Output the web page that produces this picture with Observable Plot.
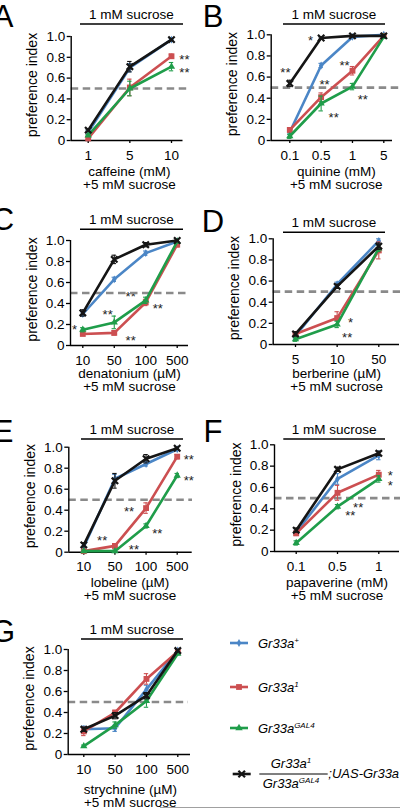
<!DOCTYPE html>
<html><head><meta charset="utf-8">
<script src="https://cdn.jsdelivr.net/npm/d3@7"></script>
<script src="https://cdn.jsdelivr.net/npm/@observablehq/plot@0.6"></script>
<style>
html,body{margin:0;padding:0;background:#fff;}
#root{position:relative;width:400px;height:809px;overflow:hidden;font-family:"Liberation Sans",Arial,sans-serif;}
.panel{position:absolute;width:200px;}
#overlay{position:absolute;left:0;top:0;}
</style></head><body><div id="root"></div>
<script>
// ---- data ----
const genotypeNames = ["Gr33a+", "Gr33a1", "Gr33aGAL4", "rescue"];
const colors = ["#4b86c6", "#cc4f51", "#1f9d4a", "#151515"];
const symbols = ["diamond", "square", "triangle", "times"];
const yTicks = [0, 0.2, 0.4, 0.6, 0.8, 1.0];

// order of each means/sem list: Gr33a+, Gr33a1, Gr33aGAL4, rescue
const caffeineDoses = ["1", "5", "10"];
const caffeineMeans = [[0.08,0.70,0.97],[0.02,0.51,0.81],[0.05,0.50,0.71],[0.10,0.71,0.97]];
const caffeineSEM   = [[0.02,0.04,0.01],[0.01,0.08,0.02],[0.01,0.07,0.04],[0.01,0.05,0.01]];
const caffeineStars = [{i:2.31,v:0.817,t:"**"},{i:2.31,v:0.69,t:"**"}];

const quinineDoses = ["0.1", "0.5", "1", "5"];
const quinineMeans = [[0.08,0.71,0.98,1.0],[0.10,0.41,0.66,0.99],[0.04,0.35,0.51,0.98],[0.54,0.97,0.99,0.99]];
const quinineSEM   = [[0.02,0.02,0.01,0.01],[0.02,0.04,0.04,0.01],[0.02,0.07,0.03,0.01],[0.03,0.01,0.01,0.01]];
const quinineStars = [{i:-0.14,v:0.678,t:"**"},{i:0.66,v:0.977,t:"*"},{i:1.11,v:0.568,t:"**"},{i:1.40,v:0.252,t:"**"},{i:1.746,v:0.741,t:"**"},{i:2.33,v:0.419,t:"**"}];

const denatoniumDoses = ["10", "50", "100", "500"];
const denatoniumMeans = [[0.30,0.63,0.88,0.99],[0.11,0.12,0.41,0.96],[0.15,0.22,0.43,0.99],[0.31,0.82,0.96,1.0]];
const denatoniumSEM   = [[0.02,0.02,0.02,0.01],[0.01,0.02,0.03,0.02],[0.02,0.06,0.03,0.01],[0.03,0.04,0.02,0.01]];
const denatoniumStars = [{i:-0.26,v:0.19,t:"*"},{i:0.79,v:0.333,t:"**"},{i:1.52,v:0.498,t:"**"},{i:1.52,v:0.086,t:"**"},{i:2.38,v:0.39,t:"**"}];

const berberineDoses = ["5", "10", "50"];
const berberineMeans = [[0.08,0.57,0.98],[0.10,0.25,0.89],[0.05,0.19,0.91],[0.10,0.55,0.93]];
const berberineSEM   = [[0.02,0.02,0.02],[0.02,0.06,0.08],[0.02,0.03,0.03],[0.02,0.02,0.03]];
const berberineStars = [{i:1.32,v:0.243,t:"*"},{i:1.24,v:0.10,t:"**"}];

const lobelineDoses = ["10", "50", "100", "500"];
const lobelineMeans = [[0.05,0.70,0.84,0.98],[0.01,0.06,0.42,0.91],[0.01,0.01,0.25,0.73],[0.07,0.68,0.89,0.99]];
const lobelineSEM   = [[0.01,0.04,0.02,0.01],[0.01,0.02,0.05,0.02],[0.01,0.01,0.02,0.02],[0.02,0.07,0.04,0.01]];
const lobelineStars = [{i:0.59,v:0.15,t:"**"},{i:1.45,v:0.42,t:"**"},{i:1.61,v:0.057,t:"**"},{i:2.36,v:0.216,t:"**"},{i:3.37,v:0.914,t:"**"},{i:3.37,v:0.72,t:"**"}];

const papaverineDoses = ["0.1", "0.5", "1"];
const papaverineMeans = [[0.18,0.68,0.90],[0.17,0.55,0.72],[0.08,0.42,0.68],[0.20,0.77,0.92]];
const papaverineSEM   = [[0.02,0.05,0.04],[0.02,0.07,0.04],[0.02,0.02,0.03],[0.02,0.02,0.02]];
const papaverineStars = [{i:2.28,v:0.75,t:"*"},{i:2.28,v:0.65,t:"*"},{i:1.50,v:0.447,t:"**"},{i:1.31,v:0.375,t:"**"}];

const strychnineDoses = ["10", "50", "100", "500"];
const strychnineMeans = [[0.24,0.25,0.62,0.99],[0.22,0.40,0.72,0.98],[0.08,0.28,0.51,0.96],[0.24,0.37,0.56,0.99]];
const strychnineSEM   = [[0.03,0.03,0.04,0.01],[0.04,0.02,0.05,0.01],[0.01,0.03,0.06,0.01],[0.02,0.03,0.03,0.01]];
const strychnineStars = [];

// ---- layout (pixels, relative to each panel origin) ----
const layouts = {
  A:{ox:0,  oy:0,  H:200, L:70.7, y1:36,   y0:140,   c0:87.7, c1:171,   R:182.5, dashR:190, lx:3,    lb:27,   sucY:24,   sx1:80,   sx2:183, xl1:175.5},
  B:{ox:200,oy:0,  H:200, L:70.7, y1:34.3, y0:140,   c0:89.3, c1:183.3, R:192,   dashR:200, lx:13,   lb:27,   sucY:24,   sx1:83,   sx2:185, xl1:175.5},
  C:{ox:0,  oy:200,H:200, L:70,   y1:40,   y0:145,   c0:82.3, c1:176.7, R:188,   dashR:190, lx:3,    lb:29.5, sucY:29.3, sx1:80,   sx2:183, xl1:178},
  D:{ox:200,oy:200,H:200, L:72.7, y1:38.3, y0:144,   c0:95,   c1:178.3, R:199,   dashR:200, lx:13,   lb:31.5, sucY:32.3, sx1:83,   sx2:185, xl1:177.5},
  E:{ox:0,  oy:400,H:200, L:68.3, y1:46.7, y0:151.7, c0:83.3, c1:176.7, R:191.7, dashR:192, lx:3,    lb:41.5, sucY:39,   sx1:81,   sx2:183, xl1:187},
  F:{ox:200,oy:400,H:200, L:74,   y1:44.3, y0:151,   c0:95.7, c1:178.3, R:199,   dashR:200, lx:13,   lb:41.5, sucY:39,   sx1:83.3, sx2:185, xl1:187},
  G:{ox:0,  oy:600,H:209, L:67.7, y1:49,   y0:154,   c0:83.3, c1:177.3, R:190,   dashR:188, lx:3,    lb:41.5, sucY:39,   sx1:81,   sx2:183, xl1:193.5}
};

const FONT = "Liberation Sans, Arial, sans-serif";
const root = document.getElementById("root");

function drawPanel(letter, doses, means, sem, stars, xLabel) {
  const g = layouts[letter];
  const n = doses.length;
  const step = (g.c1 - g.c0) / (n - 1);
  const toIdx = px => (px - g.c0) / step;
  const xDom = [toIdx(g.L), toIdx(g.dashR)];
  const axisEnd = toIdx(g.R);
  const cap = 2.2 / step;
  const marks = [
    Plot.text(stars, {x:"i", y:"v", text:"t", fontSize:13, dy:4, fill:"#222"}),
    Plot.ruleY([0.5], {stroke:"#8a8a8a", strokeWidth:2.6, strokeDasharray:"7.5,4.5"}),
    Plot.ruleY([0], {x1:xDom[0], x2:axisEnd, stroke:"#000", strokeWidth:1.4}),
    Plot.ruleX([xDom[0]], {y1:0, y2:1, stroke:"#000", strokeWidth:1.4}),
    Plot.axisY({ticks:yTicks, tickFormat:d => d === 0 ? "0" : d.toFixed(1), tickSize:4, tickPadding:2, label:null, strokeWidth:1.3}),
    Plot.axisX({ticks:d3.range(n), tickFormat:i => doses[i], tickSize:3, tickPadding:6.5, label:null, strokeWidth:1.3})
  ];
  for (let s = 0; s < 4; s++) {
    const rows = doses.map((d, i) => ({i, v:means[s][i], e:sem[s][i]}));
    marks.push(Plot.ruleX(rows, {x:"i", y1:d => d.v - d.e, y2:d => d.v + d.e, stroke:colors[s], strokeWidth:1.1}));
    marks.push(Plot.ruleY(rows, {y:d => d.v + d.e, x1:d => d.i - cap, x2:d => d.i + cap, stroke:colors[s], strokeWidth:1.1}));
    marks.push(Plot.ruleY(rows, {y:d => d.v - d.e, x1:d => d.i - cap, x2:d => d.i + cap, stroke:colors[s], strokeWidth:1.1}));
    marks.push(Plot.line(rows, {x:"i", y:"v", stroke:colors[s], strokeWidth:2.6}));
    if (symbols[s] === "times") {
      marks.push(Plot.dot(rows, {x:"i", y:"v", symbol:"times", r:3, stroke:colors[s], strokeWidth:2.2, fill:"none"}));
    } else {
      const r = symbols[s] === "diamond" ? 2.4 : symbols[s] === "square" ? 3.3 : 2.7;
      marks.push(Plot.dot(rows, {x:"i", y:"v", symbol:symbols[s], r, fill:colors[s], stroke:"none"}));
    }
  }
  const svg = Plot.plot({
    width:200, height:g.H,
    marginLeft:g.L, marginRight:200 - g.dashR, marginTop:g.y1, marginBottom:g.H - g.y0,
    x:{type:"linear", domain:xDom},
    y:{domain:[0, 1]},
    style:{fontFamily:FONT, fontSize:"13.5px", color:"#000", background:"transparent", overflow:"visible"},
    marks
  });
  const sel = d3.select(svg);
  sel.append("text").attr("x", g.lx).attr("y", g.lb).attr("font-size", 31).attr("fill", "#000").text(letter);
  sel.append("text").attr("x", (g.sx1 + g.sx2) / 2).attr("y", g.sucY - 5.5).attr("text-anchor", "middle")
    .attr("font-size", 13.5).attr("fill", "#000").text("1 mM sucrose");
  sel.append("line").attr("x1", g.sx1).attr("x2", g.sx2).attr("y1", g.sucY).attr("y2", g.sucY)
    .attr("stroke", "#000").attr("stroke-width", 1.5);
  sel.append("text").attr("transform", `translate(${g.L - 33.5},${(g.y0 + g.y1) / 2 - 3}) rotate(-90)`)
    .attr("text-anchor", "middle").attr("font-size", 14).attr("fill", "#000").text("preference index");
  const cx = (g.c0 + g.c1) / 2;
  sel.append("text").attr("x", cx).attr("y", g.xl1).attr("text-anchor", "middle").attr("font-size", 13.5).attr("fill", "#000").text(xLabel);
  sel.append("text").attr("x", cx).attr("y", g.xl1 + 13).attr("text-anchor", "middle").attr("font-size", 13.5).attr("fill", "#000").text("+5 mM sucrose");
  const div = document.createElement("div");
  div.className = "panel";
  div.style.left = g.ox + "px";
  div.style.top = g.oy + "px";
  div.appendChild(svg);
  root.appendChild(div);
}

drawPanel("A", caffeineDoses, caffeineMeans, caffeineSEM, caffeineStars, "caffeine (mM)");
drawPanel("B", quinineDoses, quinineMeans, quinineSEM, quinineStars, "quinine (mM)");
drawPanel("C", denatoniumDoses, denatoniumMeans, denatoniumSEM, denatoniumStars, "denatonium (µM)");
drawPanel("D", berberineDoses, berberineMeans, berberineSEM, berberineStars, "berberine (µM)");
drawPanel("E", lobelineDoses, lobelineMeans, lobelineSEM, lobelineStars, "lobeline (µM)");
drawPanel("F", papaverineDoses, papaverineMeans, papaverineSEM, papaverineStars, "papaverine (mM)");
drawPanel("G", strychnineDoses, strychnineMeans, strychnineSEM, strychnineStars, "strychnine (µM)");

// ---- legend ----
const ov = d3.select(root).append("svg").attr("id", "overlay").attr("width", 400).attr("height", 809)
  .style("font-family", FONT);
const legendY = [643, 687, 728, 774];
const supers = ["+", "1", "GAL4"];
const symGen = {diamond:d3.symbolDiamond, square:d3.symbolSquare, triangle:d3.symbolTriangle, times:d3.symbolX};
const symSize = {diamond:18, square:34, triangle:24, times:30};
for (let s = 0; s < 4; s++) {
  const y = legendY[s];
  const x0 = s === 3 ? 232.7 : 230, x1 = s === 3 ? 250.7 : 248;
  ov.append("line").attr("x1", x0).attr("x2", x1).attr("y1", y).attr("y2", y).attr("stroke", colors[s]).attr("stroke-width", 2.6);
  const p = d3.symbol(symGen[symbols[s]], symSize[symbols[s]])();
  const m = ov.append("path").attr("d", p).attr("transform", `translate(${(x0 + x1) / 2},${y})`);
  if (symbols[s] === "times") m.attr("stroke", colors[s]).attr("stroke-width", 2.2).attr("fill", "none");
  else m.attr("fill", colors[s]);
  if (s < 3) {
    const t = ov.append("text").attr("x", 258).attr("y", y + 5).attr("font-size", 13).attr("font-style", "italic").attr("fill", "#000");
    t.append("tspan").text("Gr33a");
    t.append("tspan").attr("font-size", 8).attr("dy", -5).text(supers[s]);
  }
}
// rescue genotype label (fraction)
const num = ov.append("text").attr("x", 291).attr("y", 768).attr("text-anchor", "middle").attr("font-size", 13).attr("font-style", "italic");
num.append("tspan").text("Gr33a");
num.append("tspan").attr("font-size", 8).attr("dy", -5).text("1");
ov.append("line").attr("x1", 259.3).attr("x2", 327.7).attr("y1", 774).attr("y2", 774).attr("stroke", "#000").attr("stroke-width", 1);
const den = ov.append("text").attr("x", 291).attr("y", 788).attr("text-anchor", "middle").attr("font-size", 13).attr("font-style", "italic");
den.append("tspan").text("Gr33a");
den.append("tspan").attr("font-size", 8).attr("dy", -5).text("GAL4");
ov.append("text").attr("x", 328.3).attr("y", 778).attr("font-size", 13).attr("font-style", "italic").text(";UAS-Gr33a");
// bottom rule
ov.append("line").attr("x1", 160).attr("x2", 400).attr("y1", 807.5).attr("y2", 807.5).attr("stroke", "#a0a0a0").attr("stroke-width", 1.2);
</script></body></html>
